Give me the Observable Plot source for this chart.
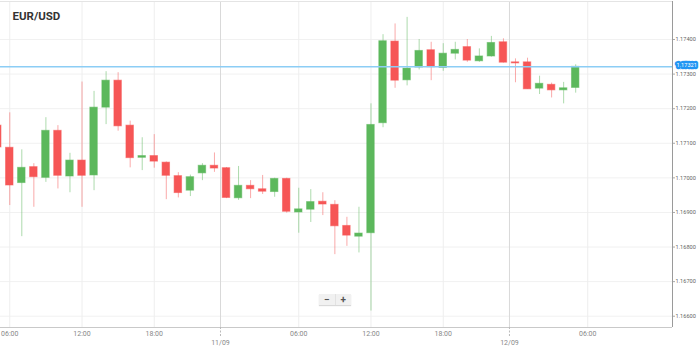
<!DOCTYPE html>
<html><head><meta charset="utf-8">
<script src="https://cdn.jsdelivr.net/npm/d3@7"></script>
<script src="https://cdn.jsdelivr.net/npm/@observablehq/plot@0.6"></script>
<style>
body{margin:0;background:#fff;}
#wrap{position:relative;width:699px;height:351px;}
#zoom{position:absolute;left:319px;top:294px;width:32px;height:11px;background:#f1f1f1;box-shadow:0 1px 1px rgba(0,0,0,0.15);display:flex;font:bold 10px Roboto,sans-serif;color:#555;}
#zoom span{flex:1;text-align:center;line-height:11px;}
#zoom span:first-child{border-right:1px solid #e2e2e2;}
</style></head><body>
<div id="wrap"><div id="zoom"><span>−</span><span>+</span></div></div>
<script>
// Hours since 10/09 00:00 (hourly candles)
const hours = [5,6,7,8,9,10,11,12,13,14,15,16,17,18,19,20,21,22,23,24,25,26,27,28,29,30,31,32,33,34,35,36,37,38,39,40,41,42,43,44,45,46,47,48,49,50,51,52,53];
const opens = [1.17151,1.17087,1.16985,1.17031,1.17000,1.17136,1.17004,1.17050,1.17007,1.17203,1.17281,1.17151,1.17058,1.17063,1.17044,1.17005,1.16963,1.17013,1.17035,1.17028,1.16941,1.16977,1.16967,1.16959,1.16997,1.16900,1.16908,1.16931,1.16922,1.16861,1.16830,1.16840,1.17158,1.17394,1.17282,1.17319,1.17369,1.17318,1.17359,1.17378,1.17337,1.17351,1.17392,1.17334,1.17334,1.17258,1.17269,1.17253,1.17260];
const highs = [1.17163,1.17188,1.17081,1.17041,1.17174,1.17151,1.17071,1.17277,1.17250,1.17307,1.17304,1.17164,1.17116,1.17125,1.17046,1.17015,1.17008,1.17041,1.17072,1.17030,1.17033,1.16992,1.17007,1.16999,1.16999,1.16970,1.16966,1.16957,1.16934,1.16886,1.16915,1.17214,1.17414,1.17445,1.17464,1.17400,1.17392,1.17388,1.17392,1.17400,1.17373,1.17409,1.17402,1.17344,1.17346,1.17294,1.17274,1.17276,1.17327];
const lows = [1.17079,1.16920,1.16830,1.16915,1.16987,1.16968,1.16957,1.16915,1.16963,1.17154,1.17135,1.17029,1.17021,1.17028,1.16937,1.16942,1.16946,1.16992,1.17016,1.16940,1.16935,1.16940,1.16952,1.16944,1.16898,1.16840,1.16871,1.16891,1.16778,1.16802,1.16783,1.16615,1.17145,1.17259,1.17266,1.17312,1.17281,1.17308,1.17341,1.17334,1.17334,1.17349,1.17332,1.17275,1.17256,1.17241,1.17231,1.17214,1.17245];
const closes = [1.17088,1.16978,1.17029,1.17002,1.17136,1.17006,1.17050,1.17006,1.17203,1.17281,1.17149,1.17057,1.17063,1.17047,1.17006,1.16956,1.17002,1.17035,1.17027,1.16942,1.16977,1.16967,1.16960,1.16997,1.16902,1.16909,1.16930,1.16923,1.16860,1.16833,1.16839,1.17153,1.17395,1.17281,1.17316,1.17367,1.17320,1.17359,1.17370,1.17339,1.17351,1.17390,1.17333,1.17331,1.17256,1.17272,1.17253,1.17259,1.17321];
const lastPrice = 1.17321;
const yTicks = [1.166,1.167,1.168,1.169,1.170,1.171,1.172,1.173,1.174];
const hourTickHours = [6,12,18,30,36,42,54];
const daySepHours = [23.5,47.5];
const dayLabels = ["11/09","12/09"];
const xDomainHours = [5.23,61.04];
const yDomain = [1.165674,1.175099];
const title = "EUR/USD";

const t0 = Date.UTC(2017,8,10);
const toDate = h => new Date(t0 + h*3600e3);
const GREEN = "#5cb85c", RED = "#f65656";

const candles = hours.map((h,i)=>({
  t: toDate(h), t1: toDate(h-0.31), t2: toDate(h+0.31),
  open: opens[i], high: highs[i], low: lows[i], close: closes[i],
  color: closes[i] >= opens[i] ? GREEN : RED
}));
const hourTicks = hourTickHours.map(toDate);
const daySeps = daySepHours.map(toDate);

const chart = Plot.plot({
  width: 699, height: 351,
  marginLeft: 0, marginRight: 27, marginTop: 1, marginBottom: 24,
  style: {fontFamily: "Roboto, sans-serif", background: "#fff"},
  x: {type: "utc", domain: xDomainHours.map(toDate), axis: null},
  y: {domain: yDomain, axis: null},
  marks: [
    Plot.ruleY(yTicks, {stroke: "#f1f1f1"}),
    Plot.ruleX(hourTicks, {stroke: "#eeeeee"}),
    Plot.ruleX(daySeps, {stroke: "#d9d9d9"}),
    Plot.ruleY([yDomain[1]], {stroke: "#e4e4e4"}),
    Plot.ruleX(candles, {x: "t", y1: "low", y2: "high", stroke: "color", strokeOpacity: 0.5}),
    Plot.rect(candles, {x1: "t1", x2: "t2", y1: "open", y2: "close", fill: "color", stroke: "color", strokeOpacity: 0.55, strokeWidth: 1}),
    Plot.ruleY([lastPrice], {stroke: "#8ccdf5", strokeWidth: 1.5}),
    Plot.ruleY([yDomain[0]], {stroke: "#c9c9c9"}),
    Plot.ruleX([toDate(xDomainHours[1])], {stroke: "#9a9a9a"}),
    Plot.axisY(yTicks, {anchor: "right", tickFormat: d => d.toFixed(5), tickSize: 2, tickPadding: 1, fontSize: 5.6, fill: "#666", stroke: "#aaa", label: null}),
    Plot.axisX(hourTicks, {anchor: "bottom", tickFormat: d3.utcFormat("%H:%M"), tickSize: 0, tickPadding: 4, fontSize: 7, fill: "#888", label: null}),
    Plot.axisX(daySeps, {anchor: "bottom", tickFormat: (d,i) => dayLabels[i], tickSize: 10, tickPadding: 3, fontSize: 7, fill: "#888", stroke: "#bbb", strokeDasharray: "2,1.5", label: null}),
    Plot.text([lastPrice], {y: d => d, frameAnchor: "right", textAnchor: "start", dx: 4, dy: -1.5, text: d => d.toFixed(5), fill: "white", stroke: "#2196f3", strokeWidth: 4.5, strokeLinejoin: "round", fontSize: 5.6}),
    Plot.text([title], {frameAnchor: "top-left", textAnchor: "start", lineAnchor: "top", dx: 12, dy: 10.5, fontWeight: "bold", fontSize: 11.5, fill: "#333"})
  ]
});
document.getElementById("wrap").prepend(chart);
</script>
</body></html>
